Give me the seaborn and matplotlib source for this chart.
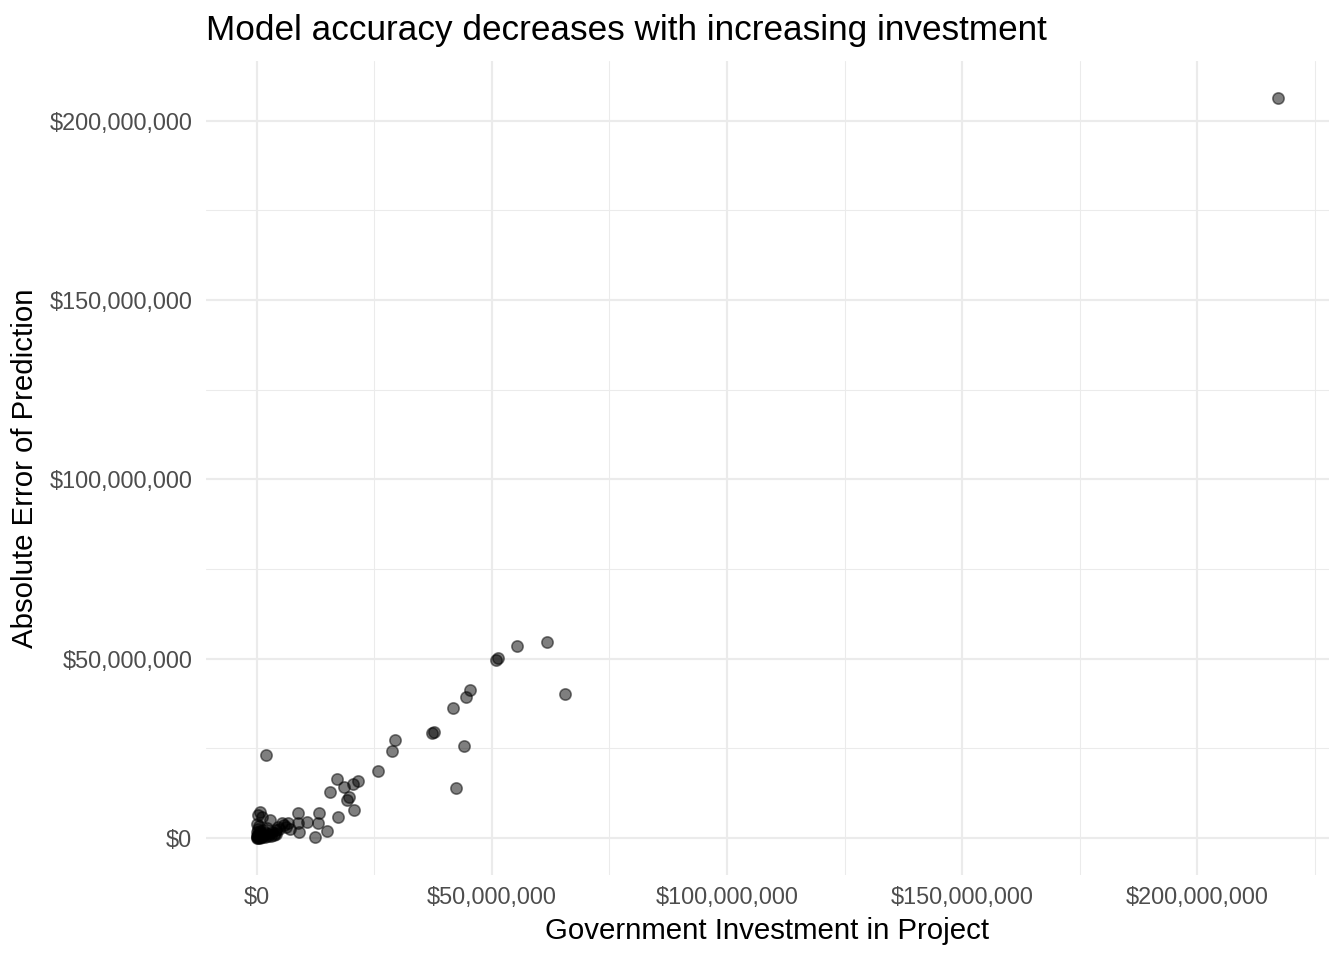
import numpy as np
import pandas as pd
import matplotlib
matplotlib.use("Agg")
import matplotlib.pyplot as plt
import matplotlib.ticker as mticker
import seaborn as sns

# values, in millions of dollars
investment_m = [
    217.2, 65.5, 61.7, 55.3, 51.3, 50.9, 45.3, 44.5, 41.7, 44.0,
    42.3, 37.6, 37.2, 29.4, 28.7, 25.7, 21.5, 20.4, 18.5, 17.0,
    15.5, 19.6, 19.1, 20.6, 17.2, 13.2, 8.7, 14.9, 12.3, 9.1,
    13.0, 10.6, 8.7, 6.6, 5.3, 4.5, 3.8, 2.8, 1.9, 0.6,
    0.2, 1.1, 5.8, 6.2, 7.0,
    0.0, 0.1, 0.2, 0.3, 0.4, 0.5, 0.6, 0.8, 1.0, 1.2,
    1.4, 1.6, 1.8, 2.0, 2.3, 2.6, 3.0, 3.3, 3.6, 4.0,
    4.2, 4.8, 0.1, 0.2, 0.3, 0.05, 0.7, 1.3, 2.2, 0.4, 0.1,
]
abs_error_m = [
    206.2, 40.2, 54.7, 53.5, 50.3, 49.6, 41.3, 39.3, 36.3, 25.7,
    13.9, 29.6, 29.3, 27.3, 24.3, 18.7, 15.9, 15.1, 14.2, 16.5,
    12.8, 11.4, 10.6, 7.8, 5.9, 7.0, 7.0, 2.0, 0.3, 1.7,
    4.2, 4.5, 4.2, 4.2, 4.2, 3.1, 1.4, 5.0, 23.1, 7.2,
    6.4, 5.9, 3.6, 3.0, 2.6,
    0.1, 0.3, 0.0, 0.5, 0.2, 0.8, 0.1, 0.4, 1.2, 0.3,
    0.6, 0.9, 0.2, 1.5, 0.7, 1.1, 0.5, 1.8, 0.9, 2.2,
    1.0, 2.6, 1.6, 2.4, 1.1, 0.6, 1.9, 2.3, 2.9, 3.3, 4.0,
]

df = pd.DataFrame({
    "investment": np.array(investment_m) * 1e6,
    "abs_error": np.array(abs_error_m) * 1e6,
})

sns.set_theme(style="white")
plt.rcParams["font.family"] = ["Liberation Sans", "DejaVu Sans"]

fig = plt.figure(figsize=(7, 5), dpi=192)
ax = fig.add_axes([0.153, 0.0885, 0.836, 0.8475])

sns.scatterplot(
    data=df, x="investment", y="abs_error", ax=ax,
    color="black", alpha=0.5, s=18, linewidth=0.6, edgecolor="black", zorder=3,
)

x_max = max(df["investment"])
y_max = max(df["abs_error"])
ax.set_xlim(-0.05 * x_max, 1.05 * x_max)
ax.set_ylim(-0.05 * y_max, 1.05 * y_max)

money = mticker.FuncFormatter(lambda v, _: f"${v:,.0f}")
for axis in (ax.xaxis, ax.yaxis):
    axis.set_major_locator(mticker.MultipleLocator(50e6))
    axis.set_minor_locator(mticker.MultipleLocator(25e6))
    axis.set_major_formatter(money)

ax.grid(which="major", color="#EBEBEB", linewidth=0.8)
ax.grid(which="minor", color="#EBEBEB", linewidth=0.4)
ax.set_axisbelow(True)
for spine in ax.spines.values():
    spine.set_visible(False)

ax.tick_params(which="both", length=0)
ax.tick_params(axis="x", labelsize=8.8, labelcolor="#4D4D4D", pad=4)
ax.tick_params(axis="y", labelsize=8.8, labelcolor="#4D4D4D", pad=5)

ax.set_xlabel("Government Investment in Project", fontsize=11, color="black", labelpad=3)
ax.set_ylabel("Absolute Error of Prediction", fontsize=11, color="black", labelpad=4)
ax.set_title("Model accuracy decreases with increasing investment",
             loc="left", fontsize=13.2, color="black", pad=8)

fig.savefig("out.png", dpi=192)
